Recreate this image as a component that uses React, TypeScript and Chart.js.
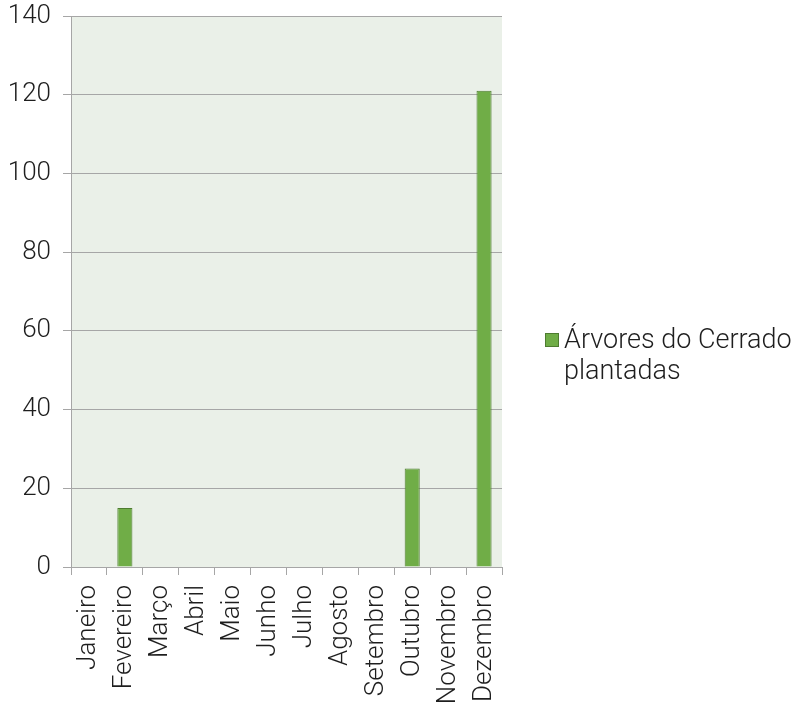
import React, { useEffect, useRef } from "react";
import { Chart, registerables } from "chart.js";

Chart.register(...registerables);

const categories = [
  "Janeiro", "Fevereiro", "Março", "Abril", "Maio", "Junho",
  "Julho", "Agosto", "Setembro", "Outubro", "Novembro", "Dezembro",
];
const values = [0, 15, 0, 0, 0, 0, 0, 0, 0, 25, 0, 121];
const seriesLabel = "Árvores do Cerrado plantadas";
const legendLines = ["Árvores do Cerrado", "plantadas"];
const yTicks = [0, 20, 40, 60, 80, 100, 120, 140];

const FONT = "Roboto";
const TEXT = "#1E1E1E";
const GRID = "#A6A6A6";
const PLOT_BG = "#EAF0E8";
const BAR = "#70AD47";
const BAR_BORDER = "#4E7C30";

const plotBg = {
  id: "plotBg",
  beforeDraw(chart: any) {
    const { ctx, chartArea } = chart;
    ctx.save();
    ctx.fillStyle = PLOT_BG;
    ctx.fillRect(chartArea.left, chartArea.top, chartArea.right - chartArea.left, chartArea.bottom - chartArea.top);
    ctx.restore();
  },
};

const sideLegend = {
  id: "sideLegend",
  afterDraw(chart: any) {
    const { ctx } = chart;
    const ds = chart.data.datasets[0];
    ctx.save();
    ctx.fillStyle = ds.backgroundColor;
    ctx.strokeStyle = ds.borderColor;
    ctx.lineWidth = 1;
    ctx.fillRect(545, 333, 14, 14);
    ctx.strokeRect(545.5, 333.5, 13, 13);
    ctx.fillStyle = TEXT;
    ctx.font = `300 27px ${FONT}`;
    ctx.textBaseline = "alphabetic";
    ctx.textAlign = "left";
    legendLines.forEach((line, i) => {
      ctx.fillText(line, 564, 348 + i * 31);
    });
    ctx.restore();
  },
};

export default function App() {
  const ref = useRef<HTMLCanvasElement | null>(null);

  useEffect(() => {
    if (!ref.current) return;
    const chart = new Chart(ref.current, {
      type: "bar",
      data: {
        labels: categories,
        datasets: [
          {
            label: seriesLabel,
            data: values,
            backgroundColor: BAR,
            borderColor: BAR_BORDER,
            borderWidth: 1,
            categoryPercentage: 1,
            barPercentage: 0.42,
          },
        ],
      },
      options: {
        animation: false,
        responsive: false,
        maintainAspectRatio: false,
        layout: { padding: { top: 16, right: 293, left: 0, bottom: 0 } },
        plugins: {
          legend: { display: false },
          tooltip: { enabled: false },
        },
        scales: {
          x: {
            offset: true,
            grid: {
              display: true,
              drawOnChartArea: false,
              drawTicks: true,
              tickLength: 8,
              color: GRID,
              offset: true,
            },
            border: { display: true, color: GRID, width: 1 },
            ticks: {
              autoSkip: false,
              maxRotation: 90,
              minRotation: 90,
              padding: 10,
              color: TEXT,
              font: { family: FONT, size: 26, weight: "300" as any },
            },
            afterFit(scale: any) {
              scale.height = 140;
              scale.paddingLeft = 0;
              scale.paddingRight = 0;
            },
          },
          y: {
            min: 0,
            max: 140,
            afterBuildTicks(scale: any) {
              scale.ticks = yTicks.map((v) => ({ value: v }));
            },
            grid: {
              color: GRID,
              tickLength: 8,
              drawTicks: true,
            },
            border: { display: true, color: GRID, width: 1 },
            ticks: {
              padding: 12,
              color: TEXT,
              font: { family: FONT, size: 26, weight: "300" as any },
            },
            afterFit(scale: any) {
              scale.width = 71;
              scale.paddingTop = 0;
              scale.paddingBottom = 0;
            },
          },
        },
      },
      plugins: [plotBg, sideLegend],
    });
    return () => chart.destroy();
  }, []);

  return (
    <div style={{ position: "absolute", left: 0, top: 0, width: 795, height: 707, background: "#fff" }}>
      <canvas ref={ref} width={795} height={707} style={{ display: "block" }} />
    </div>
  );
}
